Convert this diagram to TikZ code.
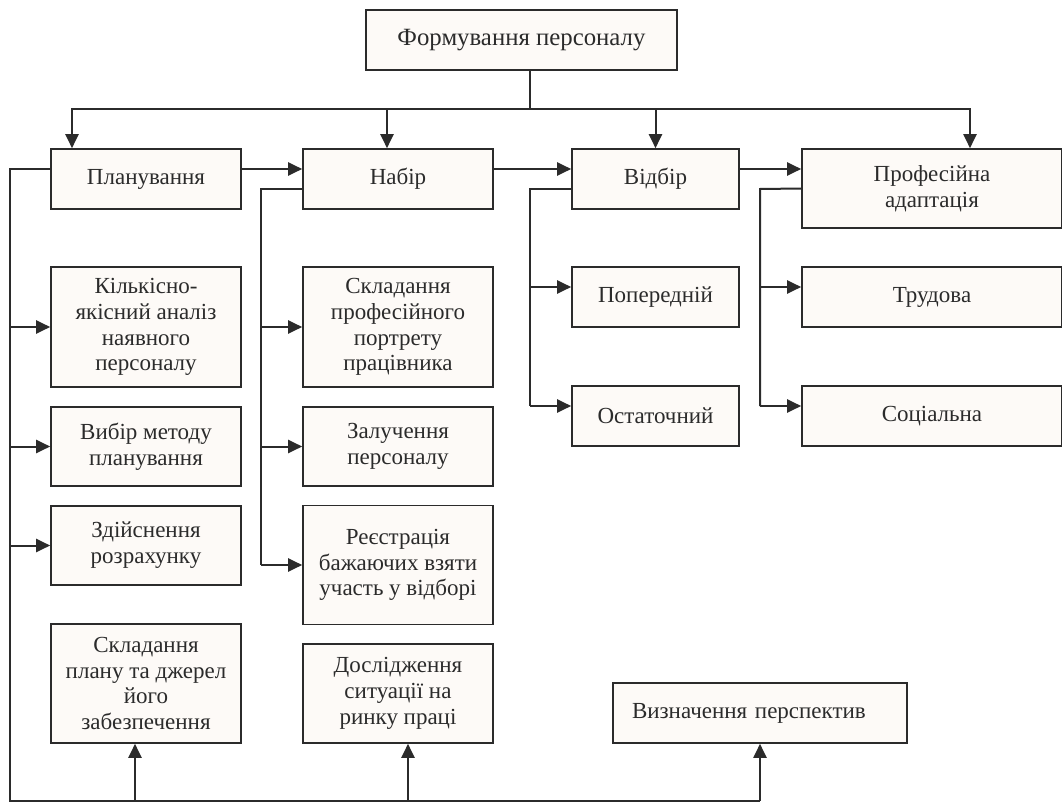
\documentclass[tikz,border=0pt]{standalone}
\usepackage{fontspec}
\setmainfont{Liberation Serif}
\usetikzlibrary{arrows.meta}
\definecolor{boxfill}{HTML}{FDFAF7}
\definecolor{linegray}{HTML}{2B2B2B}

\begin{document}
\begin{tikzpicture}[x=0.5pt, y=-0.5pt,
        box/.style={draw=linegray, line width=0.8pt, fill=boxfill, align=center, inner sep=2pt,
            text=linegray, font=\fontsize{11.5}{12.9}\selectfont},
        link/.style={draw=linegray, line width=1pt},
        arr/.style={link, -{Triangle[length=7pt, width=6.5pt]}}]
        \useasboundingbox (0,0) rectangle (1062,803);

        \node[box, minimum width=155.5pt, minimum height=30pt, font=\fontsize{12.4}{14}\selectfont] at (521.5,40)   (top) {Формування персоналу};

        \node[box, minimum width=95pt, minimum height=30pt]   at (146,179)   (plan) {Планування};
        \node[box, minimum width=95pt, minimum height=30pt]   at (398,179)   (nabir) {Набір};
        \node[box, minimum width=83.5pt, minimum height=30pt] at (655.5,179) (vidbir) {Відбір};
        \node[box, minimum width=130pt, minimum height=39.5pt] at (932,188.5) (adapt) {Професійна\\адаптація};

        \node[box, minimum width=95pt, minimum height=60pt]   at (146,327)   (kilk) {Кількісно-\\якісний аналіз\\наявного\\персоналу};
        \node[box, minimum width=95pt, minimum height=39.5pt] at (146,446.5) (vybir) {Вибір методу\\планування};
        \node[box, minimum width=95pt, minimum height=39.5pt] at (146,545.5) (zdiysn) {Здійснення\\розрахунку};
        \node[box, minimum width=95pt, minimum height=59.5pt] at (146,683.5) (sklplan) {Складання\\плану та джерел\\його\\забезпечення};

        \node[box, minimum width=95pt, minimum height=60pt]   at (398,327)   (sklprof) {Складання\\професійного\\портрету\\працівника};
        \node[box, minimum width=95pt, minimum height=39.5pt] at (398,446.5) (zaluch) {Залучення\\персоналу};
        \node[box, minimum width=95pt, minimum height=59.5pt] at (398,565)   (reiestr) {Реєстрація\\бажаючих взяти\\участь у відборі};
        \node[box, minimum width=95pt, minimum height=49.5pt] at (398,693.5) (doslid) {Дослідження\\ситуації на\\ринку праці};

        \node[box, minimum width=83.5pt, minimum height=30pt] at (655.5,297) (poper) {Попередній};
        \node[box, minimum width=83.5pt, minimum height=30pt] at (655.5,416) (ostat) {Остаточний};

        \node[box, minimum width=130pt, minimum height=30pt]  at (932,297)   (trud) {Трудова};
        \node[box, minimum width=130pt, minimum height=30pt]  at (932,416)   (social) {Соціальна};

        \node[box, align=left, text width=128pt, inner xsep=9.5pt, minimum height=30pt] at (760,713) (vyznach) {Визначення перспектив};

        % from the top box to the four stages
        \coordinate (bus) at (530,109);
        \draw[link] (top.south -| bus) -- (bus);
        \draw[arr] (bus) -| ([xshift=-37pt]plan.north);
        \draw[arr] (bus) -| ([xshift=-5.5pt]nabir.north);
        \draw[arr] (bus) -| (vidbir.north);
        \draw[arr] (bus) -| ([xshift=19pt]adapt.north);

        \draw[arr] ([yshift=5pt]plan.east) -- ([yshift=5pt]nabir.west);
        \draw[arr] ([yshift=5pt]nabir.east) -- ([yshift=5pt]vidbir.west);
        \draw[arr] ([yshift=5pt]vidbir.east) -- ([yshift=5pt]vidbir.east -| adapt.west);

        % planning branch and the bottom line
        \coordinate (lrail) at (10,169);
        \coordinate (lbot) at (10,801);
        \draw[link] ([yshift=5pt]plan.west) -- (lrail) -- (lbot) -- (lbot -| vyznach.south);
        \foreach \n in {kilk, vybir, zdiysn}
            \draw[arr] (lrail |- \n.west) -- (\n.west);
        \draw[arr] ([xshift=-5.5pt]sklplan.south |- lbot) -- ([xshift=-5.5pt]sklplan.south);
        \draw[arr] ([xshift=5pt]doslid.south |- lbot) -- ([xshift=5pt]doslid.south);
        \draw[arr] (vyznach.south |- lbot) -- (vyznach.south);

        % recruitment branch
        \coordinate (nrail) at (261,189);
        \draw[link] ([yshift=-5pt]nabir.west) -- (nrail) -- (nrail |- reiestr.west);
        \foreach \n in {sklprof, zaluch, reiestr}
            \draw[arr] (nrail |- \n.west) -- (\n.west);

        % selection branch
        \coordinate (vrail) at (530,189);
        \draw[link] ([yshift=-5pt]vidbir.west) -- (vrail) -- ([yshift=5pt]vrail |- ostat.west);
        \foreach \n in {poper, ostat}
            \draw[arr] ([yshift=5pt]vrail |- \n.west) -- ([yshift=5pt]\n.west);

        % adaptation branch
        \coordinate (arail) at (760,189);
        \draw[link] (adapt.west) -- (arail) -- ([yshift=5pt]arail |- social.west);
        \foreach \n in {trud, social}
            \draw[arr] ([yshift=5pt]arail |- \n.west) -- ([yshift=5pt]\n.west);
\end{tikzpicture}
\end{document}
